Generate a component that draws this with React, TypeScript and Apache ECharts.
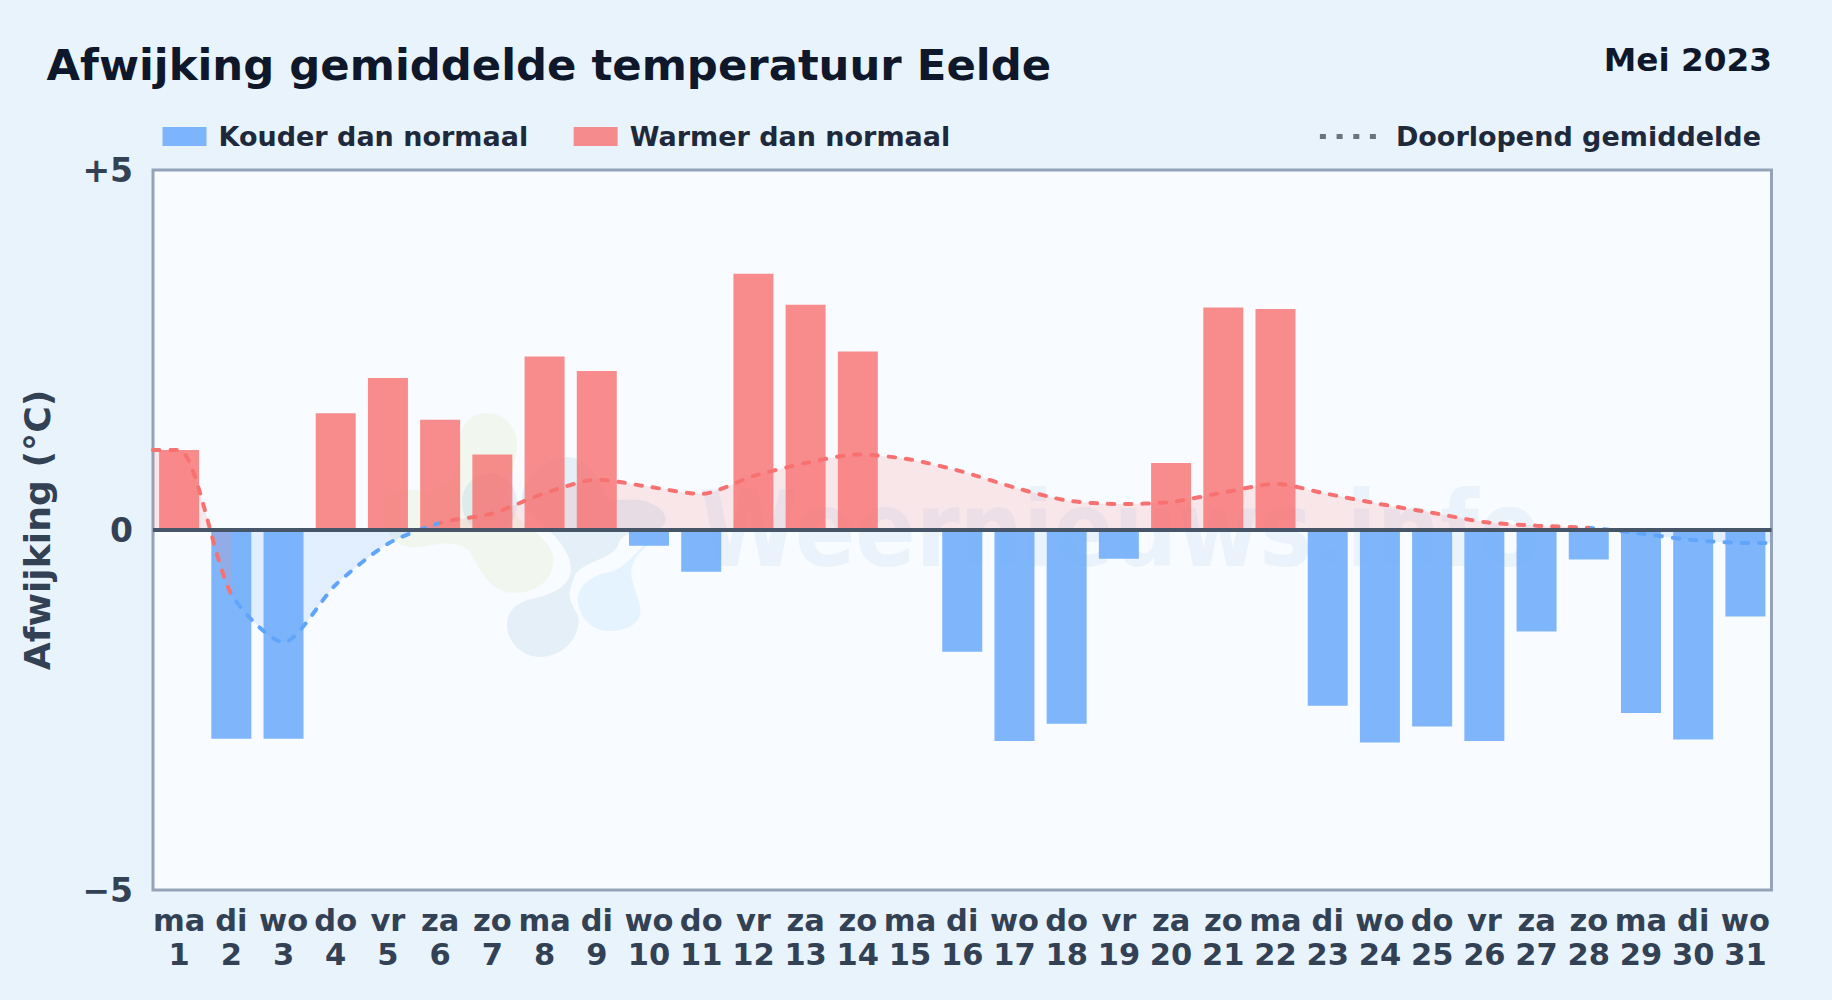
import React, { useEffect, useRef } from "react";
import * as echarts from "echarts";

const FONT = "'DejaVu Sans', sans-serif";
const days = ["ma","di","wo","do","vr","za","zo","ma","di","wo","do","vr","za","zo","ma","di","wo","do","vr","za","zo","ma","di","wo","do","vr","za","zo","ma","di","wo"];
const dayNumbers = [1,2,3,4,5,6,7,8,9,10,11,12,13,14,15,16,17,18,19,20,21,22,23,24,25,26,27,28,29,30,31];
const colder = [null,-2.9,-2.9,null,null,null,null,null,null,-0.22,-0.58,null,null,null,null,-1.69,-2.93,-2.69,-0.4,null,null,null,-2.44,-2.95,-2.73,-2.93,-1.41,-0.41,-2.54,-2.91,-1.2];
const warmer = [1.11,null,null,1.62,2.11,1.53,1.05,2.41,2.21,null,null,3.56,3.13,2.48,null,null,null,null,null,0.93,3.09,3.07,null,null,null,null,null,null,null,null,null];
const runningX = [0.5,1,2,3,4,5,6,7,8,9,10,11,12,13,14,15,16,17,18,19,20,21,22,23,24,25,26,27,28,29,30,31,31.5];
const runningMean = [1.11,1.11,-0.89,-1.56,-0.76,-0.19,0.1,0.23,0.51,0.7,0.6,0.5,0.75,0.93,1.05,0.98,0.81,0.59,0.41,0.36,0.39,0.52,0.64,0.5,0.36,0.24,0.11,0.06,0.03,-0.05,-0.14,-0.18,-0.18];
const yTickLabels: Record<string, string> = { "5": "+5", "0": "0", "-5": "\u22125" };

const BLUE = "rgba(96,165,250,0.8)";
const RED = "rgba(248,113,113,0.8)";

const DOTS = "path://M0 0h6v5h-6zM16.7 0h6v5h-6zM33.4 0h6v5h-6zM50 0h6v5h-6z";

echarts.graphic.registerShape("wmGreen", echarts.graphic.extendPath(
  "M487 413C505 413 517 428 517 445C517 465 505 480 510 505C515 525 545 530 553 555C556 580 535 593 515 593C490 593 480 570 470 552C460 540 440 543 420 547C395 550 382 530 382 512C382 495 400 487 415 490C440 495 458 480 460 450C458 425 470 413 487 413Z", {}));
echarts.graphic.registerShape("wmBlueTop", echarts.graphic.extendPath(
  "M490 473C508 473 518 490 517 505C516 522 505 532 490 532C472 532 462 518 462 502C462 487 474 473 490 473Z", {}));
echarts.graphic.registerShape("wmDark", echarts.graphic.extendPath(
  "M567 457C585 457 597 472 605 495C615 505 635 495 650 503C668 510 672 525 655 530C640 533 622 530 618 545C612 560 585 560 575 575C570 590 565 595 578 615C582 640 560 657 540 657C520 657 507 640 507 625C507 605 525 600 540 597C565 590 580 575 565 550C555 530 528 518 522 500C520 480 548 457 567 457Z", {}));
echarts.graphic.registerShape("wmLight", echarts.graphic.extendPath(
  "M660 538C642 548 628 560 632 580C636 595 642 605 640 615C636 628 620 631 608 631C590 630 578 615 578 600C578 585 592 575 610 572C632 566 640 540 660 538Z", {}));

export default function App() {
  const ref = useRef<HTMLDivElement>(null);
  useEffect(() => {
    document.body.style.margin = "0";
    document.body.style.background = "#e9f3fc";
    const chart = echarts.init(ref.current!, undefined, { renderer: "svg" });
    chart.setOption({
      animation: false,
      backgroundColor: "#e9f3fc",
      textStyle: { fontFamily: FONT },
      title: [
        { text: "Afwijking gemiddelde temperatuur Eelde", left: 41.5, top: 38, textStyle: { fontFamily: FONT, fontSize: 43.35, fontWeight: "bold", color: "#0f172a" } },
        { text: "Mei 2023", right: 55, top: 38.5, textStyle: { fontFamily: FONT, fontSize: 32.7, fontWeight: "bold", color: "#0f172a" } },
      ],
      legend: [
        {
          left: 157.5, top: 118, itemWidth: 44, itemHeight: 19, itemGap: 45.5,
          textStyle: { fontFamily: FONT, fontSize: 27, fontWeight: "bold", color: "#1e293b", padding: [0, 0, 0, 7] },
          data: [
            { name: "Kouder dan normaal", icon: "rect", itemStyle: { color: BLUE } },
            { name: "Warmer dan normaal", icon: "rect", itemStyle: { color: RED } },
          ],
        },
        {
          right: 66, top: 118, itemWidth: 56, itemHeight: 5,
          textStyle: { fontFamily: FONT, fontSize: 27, fontWeight: "bold", color: "#1e293b", padding: [0, 0, 0, 15] },
          data: [{ name: "Doorlopend gemiddelde", icon: DOTS, itemStyle: { color: "#6b7280", borderWidth: 0, opacity: 1 } }],
        },
      ],
      grid: { show: true, left: 153, top: 170, width: 1618.5, height: 720, backgroundColor: "#f8fbff", borderColor: "#94a3b8", borderWidth: 3, z: 0 },
      graphic: { elements: [
        { type: "wmGreen", x: 0, y: 0, z: 1, silent: true, style: { fill: "rgba(190,225,120,0.13)" } },
        { type: "wmBlueTop", x: 0, y: 0, z: 1, silent: true, style: { fill: "rgba(100,170,220,0.14)" } },
        { type: "wmDark", x: 0, y: 0, z: 1, silent: true, style: { fill: "rgba(100,160,200,0.13)" } },
        { type: "wmLight", x: 0, y: 0, z: 1, silent: true, style: { fill: "rgba(100,190,250,0.13)" } },
        { type: "text", x: 700, y: 582, scaleY: 1.18, z: 1, silent: true, style: { text: "Weernieuws.info", fontFamily: FONT, fontSize: 89, fontWeight: "bold", fill: "rgba(59,130,200,0.07)", verticalAlign: "bottom" } },
      ] },
      xAxis: [
        {
          type: "category", data: days.map((d, i) => d + "\n" + dayNumbers[i]), position: "bottom",
          axisLine: { show: false, onZero: false }, axisTick: { show: false },
          axisLabel: { interval: 0, margin: 13, fontFamily: FONT, fontSize: 30.5, fontWeight: "bold", color: "#334155", lineHeight: 34 },
        },
        { type: "value", min: 0.5, max: 31.5, show: false },
      ],
      yAxis: {
        type: "value", min: -5, max: 5, interval: 5,
        axisLine: { show: false }, axisTick: { show: false }, splitLine: { show: false },
        axisLabel: { margin: 20, fontFamily: FONT, fontSize: 33, fontWeight: "bold", color: "#334155", formatter: (v: number) => yTickLabels[String(v)] },
        name: "Afwijking (°C)", nameLocation: "middle", nameGap: 98,
        nameTextStyle: { fontFamily: FONT, fontSize: 36.2, fontWeight: "bold", color: "#334155" },
      },
      visualMap: {
        show: false, type: "piecewise", seriesIndex: 2, dimension: 0,
        pieces: [
          { lt: 2, color: "#f87171" },
          { gte: 2, lt: 6, color: "#60a5fa" },
          { gte: 6, lt: 28, color: "#f87171" },
          { gte: 28, color: "#60a5fa" },
        ],
      },
      series: [
        { name: "Kouder dan normaal", type: "bar", stack: "d", barWidth: 40, itemStyle: { color: BLUE }, data: colder },
        {
          name: "Warmer dan normaal", type: "bar", stack: "d", barWidth: 40, itemStyle: { color: RED }, data: warmer,
          markLine: { silent: true, symbol: "none", label: { show: false }, lineStyle: { color: "#475569", width: 4, type: "solid" }, data: [{ yAxis: 0 }] },
        },
        {
          name: "Doorlopend gemiddelde", type: "line", xAxisIndex: 1, z: 3,
          showSymbol: false, smooth: 0.25,
          lineStyle: { width: 4, type: [6.5, 10.8], cap: "round" },
          areaStyle: { opacity: 0.15 },
          data: runningX.map((x, i) => [x, runningMean[i]]),
        },
      ],
    });
    return () => chart.dispose();
  }, []);
  return <div ref={ref} style={{ width: 1832, height: 1000 }} />;
}
